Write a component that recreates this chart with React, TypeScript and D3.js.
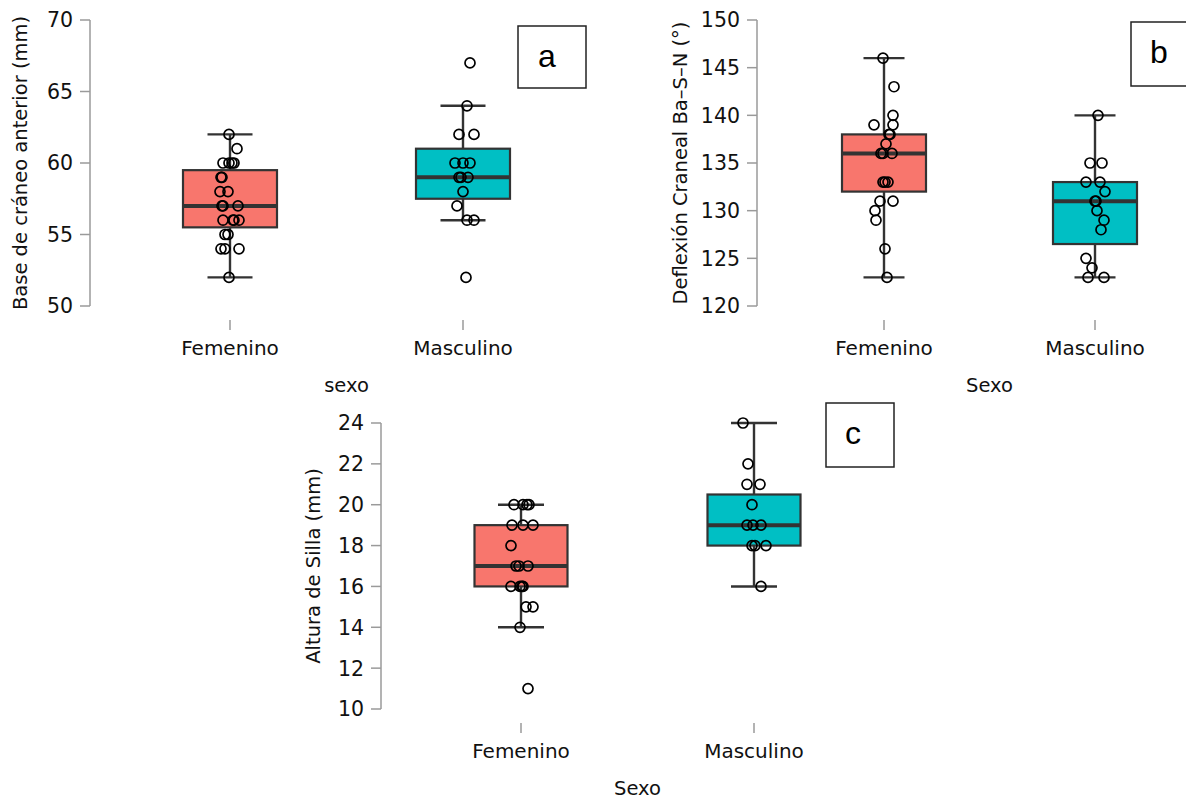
import React from "react";
import * as d3 from "d3";

// ---------- DATA ----------
const categories = ["Femenino", "Masculino"];
const boxColors = ["#f8766d", "#00bfc4"];

// Panel a: Base de cráneo anterior (mm)
const aTicks = [50, 55, 60, 65, 70];
const aFemValues = [62, 61, 60, 60, 60, 60, 59, 59, 58, 58, 57, 57, 57, 56, 56, 56, 56, 55, 55, 54, 54, 54, 52];
const aFemJitter = [-1, 7, -7, -1, 2, 4, -9, -8, -10, -2, -8, -7, 8, -7, 3, 4, 9, -5, -2, -9, -5, 9, -1];
const aMasValues = [67, 64, 62, 62, 60, 60, 60, 59, 59, 59, 58, 57, 56, 56, 52];
const aMasJitter = [7, 4, -4, 11, -8, 0, 7, -4, -2, 5, 0, -6, 4, 11, 3];
const aQ1 = [55.5, 57.5];
const aMedian = [57, 59];
const aQ3 = [59.5, 61];
const aLow = [52, 56];
const aHigh = [62, 64];

// Panel b: Deflexión Craneal Ba–S–N (°)
const bTicks = [120, 125, 130, 135, 140, 145, 150];
const bFemValues = [146, 143, 140, 139, 139, 138, 138, 137, 136, 136, 136, 133, 133, 133, 131, 131, 130, 129, 126, 123];
const bFemJitter = [-1, 10, 9, -10, 9, 5, 6, 2, -3, -1, 8, -1, 1, 4, -4, 9, -9, -8, 1, 3];
const bMasValues = [140, 135, 135, 133, 133, 132, 131, 131, 130, 129, 128, 125, 124, 123, 123];
const bMasJitter = [3, -5, 7, -9, 5, 10, 0, 1, 2, 9, 6, -9, -3, -7, 9];
const bQ1 = [132, 126.5];
const bMedian = [136, 131];
const bQ3 = [138, 133];
const bLow = [123, 123];
const bHigh = [146, 140];

// Panel c: Altura de Silla (mm)
const cTicks = [10, 12, 14, 16, 18, 20, 22, 24];
const cFemValues = [20, 20, 20, 20, 19, 19, 19, 18, 17, 17, 17, 16, 16, 16, 16, 15, 15, 14, 11];
const cFemJitter = [-7, 2, 6, 8, -9, 2, 12, -10, -5, -2, 7, -10, -1, 1, 2, 5, 12, -1, 7];
const cMasValues = [24, 22, 21, 21, 20, 19, 19, 19, 18, 18, 18, 16];
const cMasJitter = [-11, -6, -7, 6, -2, -7, -1, 7, -2, 1, 12, 7];
const cQ1 = [16, 18];
const cMedian = [17, 19];
const cQ3 = [19, 20.5];
const cLow = [14, 16];
const cHigh = [20, 24];

// ---------- LAYOUT ----------
type PanelProps = {
  ticks: number[];
  fem: number[];
  femJ: number[];
  mas: number[];
  masJ: number[];
  q1: number[];
  med: number[];
  q3: number[];
  lo: number[];
  hi: number[];
  axisX: number;
  top: number;
  bottom: number;
  cx: [number, number];
  boxW: number;
  capW: number;
  yTitle: string;
  yTitleX: number;
  xTitle: string;
  letter: string;
  letterBox: [number, number, number, number];
  letterPos: [number, number];
};

const FONT = "DejaVu Sans, sans-serif";
const AX = "#9a9a9a";
const DK = "#333333";

function Panel(p: PanelProps) {
  const y = d3
    .scaleLinear()
    .domain([p.ticks[0], p.ticks[p.ticks.length - 1]])
    .range([p.bottom, p.top]);
  const x = d3.scalePoint<string>().domain(categories).range(p.cx).padding(0);
  const jit = d3.scaleLinear().domain([-1, 1]).range([-1, 1]);
  const groups = [
    { vals: p.fem, jit: p.femJ },
    { vals: p.mas, jit: p.masJ },
  ];
  const xTickTop = p.bottom + 14;
  return (
    <g>
      {/* y axis */}
      <line x1={p.axisX} x2={p.axisX} y1={y(p.ticks[p.ticks.length - 1])} y2={y(p.ticks[0])} stroke={AX} strokeWidth={1.5} />
      {p.ticks.map((t) => (
        <g key={t}>
          <line x1={p.axisX - 10} x2={p.axisX} y1={y(t)} y2={y(t)} stroke={AX} strokeWidth={1.5} />
          <text x={p.axisX - 17} y={y(t)} dy="0.36em" textAnchor="end" fontFamily={FONT} fontSize={20.5} fill="#111">
            {t}
          </text>
        </g>
      ))}
      <text
        transform={`translate(${p.yTitleX},${(p.top + p.bottom) / 2}) rotate(-90)`}
        textAnchor="middle"
        dy="0.35em"
        fontFamily={FONT}
        fontSize={19.5}
        fill="#111"
      >
        {p.yTitle}
      </text>
      {/* x axis ticks */}
      {categories.map((c) => (
        <g key={c}>
          <line x1={x(c)!} x2={x(c)!} y1={xTickTop} y2={xTickTop + 10} stroke={AX} strokeWidth={1.5} />
          <text x={x(c)!} y={xTickTop + 35} textAnchor="middle" fontFamily={FONT} fontSize={20} fill="#111">
            {c}
          </text>
        </g>
      ))}
      <text x={(p.cx[0] + p.cx[1]) / 2} y={xTickTop + 72} textAnchor="middle" fontFamily={FONT} fontSize={19.5} fill="#111">
        {p.xTitle}
      </text>
      {/* boxes */}
      {categories.map((c, i) => {
        const cx = x(c)!;
        return (
          <g key={c}>
            <line x1={cx} x2={cx} y1={y(p.hi[i])} y2={y(p.lo[i])} stroke={DK} strokeWidth={2.4} />
            <line x1={cx - p.capW / 2} x2={cx + p.capW / 2} y1={y(p.hi[i])} y2={y(p.hi[i])} stroke={DK} strokeWidth={2.4} />
            <line x1={cx - p.capW / 2} x2={cx + p.capW / 2} y1={y(p.lo[i])} y2={y(p.lo[i])} stroke={DK} strokeWidth={2.4} />
            <rect
              x={cx - p.boxW / 2}
              y={y(p.q3[i])}
              width={p.boxW}
              height={y(p.q1[i]) - y(p.q3[i])}
              fill={boxColors[i]}
              stroke={DK}
              strokeWidth={2.2}
            />
            <line x1={cx - p.boxW / 2} x2={cx + p.boxW / 2} y1={y(p.med[i])} y2={y(p.med[i])} stroke={DK} strokeWidth={4} />
            {groups[i].vals.map((v, k) => (
              <circle key={k} cx={cx + jit(groups[i].jit[k])} cy={y(v)} r={5} fill="none" stroke="#000" strokeWidth={1.7} />
            ))}
          </g>
        );
      })}
      {/* panel letter */}
      <rect
        x={p.letterBox[0]}
        y={p.letterBox[1]}
        width={p.letterBox[2]}
        height={p.letterBox[3]}
        fill="#fff"
        stroke="#222"
        strokeWidth={1.5}
      />
      <text x={p.letterPos[0]} y={p.letterPos[1]} textAnchor="middle" fontFamily="Liberation Sans, Arial, sans-serif" fontSize={32} fill="#000">
        {p.letter}
      </text>
    </g>
  );
}

export default function App() {
  return (
    <svg width={1186} height={801} style={{ position: "absolute", left: 0, top: 0, background: "#fff" }}>
      <rect width={1186} height={801} fill="#fff" />
      <Panel
        ticks={aTicks}
        fem={aFemValues}
        femJ={aFemJitter}
        mas={aMasValues}
        masJ={aMasJitter}
        q1={aQ1}
        med={aMedian}
        q3={aQ3}
        lo={aLow}
        hi={aHigh}
        axisX={90}
        top={20}
        bottom={306}
        cx={[230, 463]}
        boxW={94}
        capW={45}
        yTitle="Base de cráneo anterior (mm)"
        yTitleX={20}
        xTitle="sexo"
        letter="a"
        letterBox={[518, 26, 68, 62]}
        letterPos={[547, 67]}
      />
      <Panel
        ticks={bTicks}
        fem={bFemValues}
        femJ={bFemJitter}
        mas={bMasValues}
        masJ={bMasJitter}
        q1={bQ1}
        med={bMedian}
        q3={bQ3}
        lo={bLow}
        hi={bHigh}
        axisX={757}
        top={20}
        bottom={306}
        cx={[884, 1095]}
        boxW={84}
        capW={41}
        yTitle="Deflexión Craneal Ba–S–N (°)"
        yTitleX={680}
        xTitle="Sexo"
        letter="b"
        letterBox={[1131, 22, 70, 64]}
        letterPos={[1159, 63]}
      />
      <Panel
        ticks={cTicks}
        fem={cFemValues}
        femJ={cFemJitter}
        mas={cMasValues}
        masJ={cMasJitter}
        q1={cQ1}
        med={cMedian}
        q3={cQ3}
        lo={cLow}
        hi={cHigh}
        axisX={381}
        top={423}
        bottom={709}
        cx={[521, 754]}
        boxW={93}
        capW={46}
        yTitle="Altura de Silla (mm)"
        yTitleX={313}
        xTitle="Sexo"
        letter="c"
        letterBox={[826, 403, 68, 64]}
        letterPos={[853, 444]}
      />
    </svg>
  );
}
